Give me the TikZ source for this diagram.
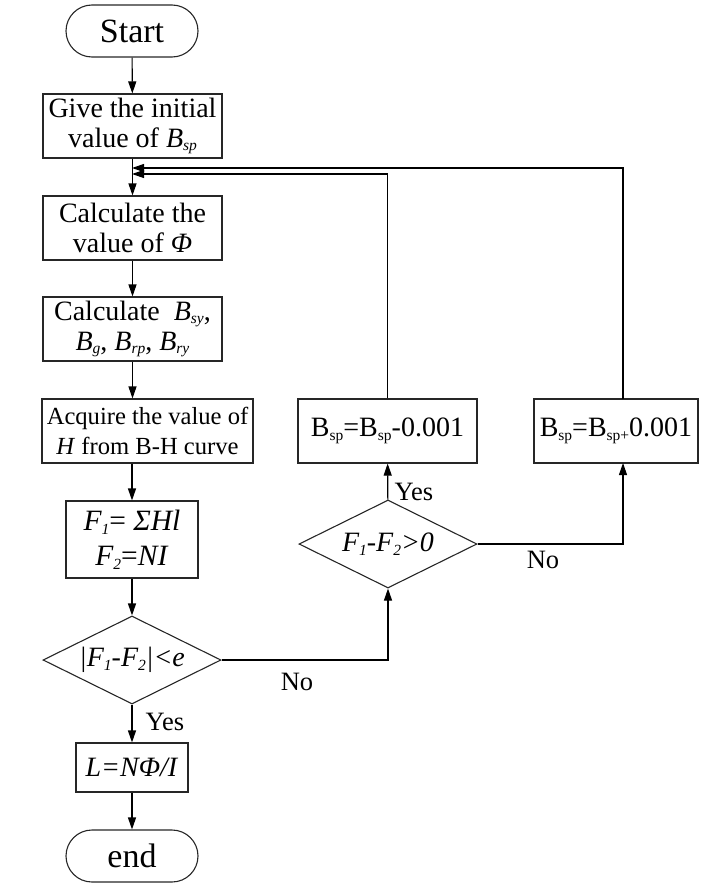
\documentclass[tikz,border=0pt]{standalone}
\usepackage{fontspec}
\setmainfont{Liberation Serif}
\usetikzlibrary{shapes.geometric,arrows.meta}
\newcommand\sbs[1]{\raisebox{-0.3ex}{\fontsize{15.5}{15.5}\selectfont #1}}
\begin{document}
\begin{tikzpicture}[x=1pt,y=-1pt,
  every node/.style={font=\fontsize{28}{30}\selectfont},
  box/.style={draw=black!85,line width=1.1pt,align=center,inner sep=0pt},
  term/.style={box,rounded corners=26pt,minimum width=132pt,minimum height=52pt,font=\fontsize{34}{36}\selectfont},
  dec/.style={draw=black!85,line width=1.1pt,diamond,aspect=2.02,inner sep=0pt,minimum width=178pt,minimum height=88pt},
  arr/.style={line width=1.1pt,-{Triangle[width=8pt,length=12pt]}},
  lbl/.style={inner sep=0pt,font=\fontsize{26.5}{30}\selectfont}]
\useasboundingbox (0,0) rectangle (704,883);

\node[term] (start) at (132,31) {Start};
\node[box,minimum width=179pt,minimum height=64pt] (b1) at (132.5,126) {Give the initial\\value of \textit{B\sbs{sp}}};
\node[box,minimum width=179pt,minimum height=64pt] (b2) at (132.5,228) {Calculate the\\value of \textit{Φ}};
\node[box,minimum width=179pt,minimum height=64pt] (b3) at (132.5,329) {Calculate~ \textit{B\sbs{sy}},\\\textit{B\sbs{g}}, \textit{B\sbs{rp}}, \textit{B\sbs{ry}}};
\node[box,minimum width=211pt,minimum height=64pt,font=\fontsize{24.6}{30}\selectfont] (b4) at (147.5,431) {Acquire the value of\\\textit{H} from B-H curve};
\node[box,minimum width=132pt,minimum height=77pt,font=\fontsize{29.5}{30}\selectfont] (b5) at (132,539.5) {\textit{F\sbs{1}}= \textit{ΣHl}\\[5pt]\textit{F\sbs{2}}=\textit{NI}};
\node[dec] (d1) at (132,660) {\textit{|F\sbs{1}-F\sbs{2}|<e}};
\node[box,minimum width=112pt,minimum height=49pt] (b6) at (132,767.5) {\textit{L=NΦ/I}};
\node[term] (end) at (132,856) {end};

\node[dec] (d2) at (388,544) {\textit{F\sbs{1}-F\sbs{2}>0}};
\node[box,minimum width=179pt,minimum height=64pt] (bm) at (387.5,431) {B\sbs{sp}=B\sbs{sp}-0.001};
\node[box,minimum width=164pt,minimum height=64pt] (bp) at (616,431) {B\sbs{sp}=B\sbs{sp+}0.001};

\coordinate (j1) at (132,168);
\coordinate (j2) at (132,174);
\coordinate (pb) at (623,463);
\coordinate (pt) at (623,399);

\draw[arr] (start) -- (b1);
\draw[arr] (b1) -- (b2);
\draw[arr] (b2) -- (b3);
\draw[arr] (b3.south) -- (b3.south |- b4.north);
\draw[arr] (b5.north |- b4.south) -- (b5.north);
\draw[arr] (b5) -- (d1);
\draw[arr] (d1) -- (b6);
\draw[arr] (b6) -- (end);
\draw[arr] (d1.east) -| (d2.south);
\draw[arr] (d2) -- (bm);
\draw[arr] (d2.east) -| (pb);
\draw[arr] (pt) |- (j1);
\draw[arr] (bm.north) |- (j2);

\node[lbl] (yes1) at (165,722) {Yes};
\node[lbl] (no1) at (297,682) {No};
\node[lbl] (yes2) at (414,492) {Yes};
\node[lbl] (no2) at (543,560) {No};
\end{tikzpicture}
\end{document}
